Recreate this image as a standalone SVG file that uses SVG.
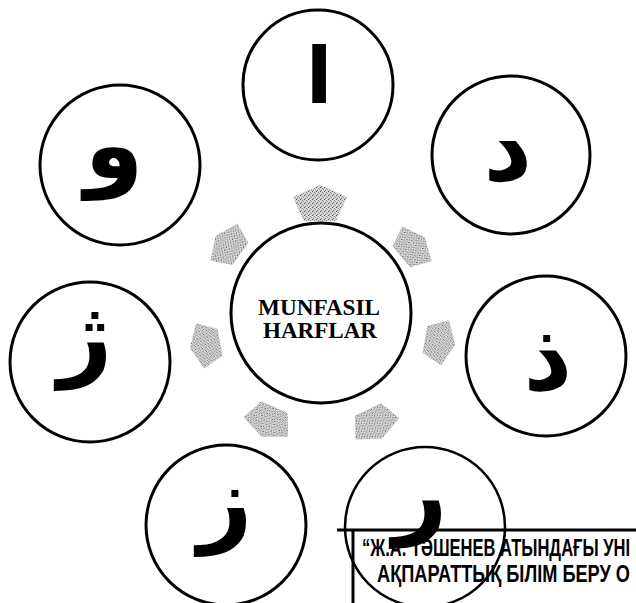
<svg xmlns="http://www.w3.org/2000/svg" xmlns:xlink="http://www.w3.org/1999/xlink" width="636" height="603" viewBox="0 0 636 603">
<style>
.c{fill:#fff;stroke:#000;stroke-width:3}
.ar{font-family:"DejaVu Sans",sans-serif;font-weight:bold;font-size:95px;fill:#000;text-anchor:middle}
.ct{font-family:"Liberation Serif",serif;font-weight:bold;font-size:23px;fill:#000;text-anchor:middle}
.st{font-family:"Liberation Sans",sans-serif;font-weight:bold;font-size:23px;fill:#000}
.arrow{fill:url(#speck);stroke:none}
</style>
<defs>
<pattern id="speck" width="4" height="4" patternUnits="userSpaceOnUse">
<rect width="4" height="4" fill="#d6d6d6"/>
<rect x="0" y="0" width="1" height="1" fill="#555"/>
<rect x="2" y="1" width="1" height="1" fill="#888"/>
<rect x="1" y="3" width="1" height="1" fill="#777"/>
<rect x="3" y="2" width="1" height="1" fill="#999"/>
</pattern>
<polygon id="arr" points="0,-18 27,-6 16,18 -16,18 -27,-6"/>
</defs>
<rect width="636" height="603" fill="#fff"/>
<g id="connectors" class="arrow">
<use xlink:href="#arr" transform="translate(320,203)"/>
<use xlink:href="#arr" transform="translate(413,247) rotate(50) scale(0.85)"/>
<use xlink:href="#arr" transform="translate(228,245) rotate(-54) scale(0.85)"/>
<use xlink:href="#arr" transform="translate(440,342) rotate(100) scale(0.85)"/>
<use xlink:href="#arr" transform="translate(205,345) rotate(-100) scale(0.85)"/>
<use xlink:href="#arr" transform="translate(268,422) rotate(-156) scale(0.9)"/>
<use xlink:href="#arr" transform="translate(375,424) rotate(154) scale(0.9)"/>
</g>
<g id="center">
<circle class="c" cx="321" cy="313" r="90"/>
<text class="ct" x="319" y="315" textLength="122" lengthAdjust="spacingAndGlyphs">MUNFASIL</text>
<text class="ct" x="320" y="338" textLength="114" lengthAdjust="spacingAndGlyphs">HARFLAR</text>
</g>
<g id="n-alef">
<circle class="c" cx="318" cy="85" r="75"/>
<text class="ar" x="319" y="103" style="font-size:78px">ا</text>
</g>
<g id="n-dal">
<circle class="c" cx="511" cy="155" r="79"/>
<text class="ar" x="508" y="180">د</text>
</g>
<g id="n-waw">
<circle class="c" cx="120" cy="165" r="80"/>
<text class="ar" x="114" y="178">و</text>
</g>
<g id="n-dhal">
<circle class="c" cx="546" cy="356" r="80"/>
<text class="ar" x="548" y="390">ذ</text>
</g>
<g id="n-zhe">
<circle class="c" cx="90" cy="362" r="80"/>
<text class="ar" x="85" y="368">ژ</text>
</g>
<g id="n-zay">
<circle class="c" cx="226" cy="525" r="80"/>
<text class="ar" x="225" y="534">ز</text>
</g>
<g id="stamp">
<line x1="337" y1="530" x2="636" y2="530" stroke="#000" stroke-width="3"/>
<line x1="353" y1="530" x2="353" y2="603" stroke="#000" stroke-width="3"/>
<text class="st" x="362" y="556" textLength="268" lengthAdjust="spacingAndGlyphs">“Ж.А. ТӘШЕНЕВ АТЫНДАҒЫ УНІ</text>
<text class="st" x="377" y="582" textLength="253" lengthAdjust="spacingAndGlyphs">АҚПАРАТТЫҚ БІЛІМ БЕРУ О</text>
</g>
<g id="n-ra">
<circle cx="425" cy="527" r="80" fill="none" stroke="#000" stroke-width="2.5"/>
<text class="ar" x="420" y="526">ر</text>
</g>
</svg>
